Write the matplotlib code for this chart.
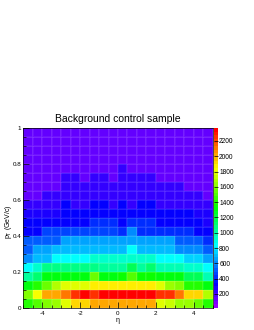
import numpy as np
import matplotlib
matplotlib.use("Agg")
import matplotlib.pyplot as plt
from matplotlib.colors import ListedColormap, Normalize
from matplotlib.ticker import MultipleLocator

plt.rcParams['font.family'] = ['Liberation Sans', 'DejaVu Sans']

# ---- data -------------------------------------------------------------
eta_edges = np.linspace(-5.0, 5.0, 21)
pt_edges = np.linspace(0.0, 1.0, 21)

# counts per eta bin (left -> right) for each pT bin (bottom -> top)
pt_bin_00 = [1404, 1498, 1592, 1638, 1779, 1920, 1920, 2014, 2014, 2014, 2014, 2014, 2014, 2014, 1779, 1732, 1638, 1638, 1545, 1404]
pt_bin_01 = [1592, 1826, 2014, 2014, 2107, 2248, 2342, 2248, 2342, 2342, 2360, 2342, 2342, 2342, 2248, 2248, 2107, 1920, 1920, 1685]
pt_bin_02 = [1310, 1404, 1545, 1685, 1779, 1779, 1779, 1873, 1873, 1873, 1873, 1873, 1873, 1873, 1779, 1638, 1592, 1420, 1420, 1310]
pt_bin_03 = [1029, 1122, 1290, 1330, 1330, 1330, 1310, 1545, 1330, 1310, 1357, 1498, 1357, 1357, 1310, 1310, 1290, 1169, 1169, 982]
pt_bin_04 = [841, 935, 1060, 1076, 1076, 1060, 1076, 1060, 1040, 1050, 1029, 1169, 1029, 1122, 1000, 1000, 1000, 935, 935, 860]
pt_bin_05 = [607, 700, 700, 841, 841, 841, 841, 935, 935, 935, 935, 935, 935, 935, 841, 841, 841, 747, 747, 654]
pt_bin_06 = [513, 654, 654, 700, 700, 700, 700, 700, 700, 700, 700, 841, 700, 700, 700, 700, 607, 607, 607, 513]
pt_bin_07 = [513, 513, 513, 513, 654, 654, 654, 654, 654, 654, 654, 654, 654, 654, 654, 654, 513, 513, 513, 400]
pt_bin_08 = [325, 325, 450, 450, 450, 450, 450, 450, 450, 450, 440, 600, 440, 440, 440, 440, 440, 440, 340, 320]
pt_bin_09 = [325, 325, 340, 340, 340, 340, 340, 440, 440, 440, 340, 440, 440, 440, 330, 330, 330, 330, 325, 278]
pt_bin_10 = [278, 278, 278, 278, 325, 325, 325, 325, 325, 325, 325, 325, 325, 325, 325, 325, 325, 325, 260, 260]
pt_bin_11 = [231, 231, 231, 231, 325, 231, 231, 325, 325, 231, 325, 231, 325, 325, 231, 231, 231, 231, 231, 231]
pt_bin_12 = [140, 140, 231, 231, 231, 231, 231, 231, 231, 231, 231, 231, 231, 231, 231, 231, 231, 231, 231, 140]
pt_bin_13 = [138, 138, 138, 138, 225, 225, 225, 225, 225, 225, 225, 225, 225, 225, 225, 225, 225, 138, 138, 138]
pt_bin_14 = [136, 136, 136, 136, 220, 220, 136, 220, 220, 136, 220, 220, 220, 220, 136, 136, 136, 136, 136, 136]
pt_bin_15 = [134, 134, 134, 134, 134, 134, 134, 134, 134, 134, 215, 134, 134, 134, 134, 134, 134, 134, 134, 134]
pt_bin_16 = [130, 130, 130, 130, 130, 130, 130, 130, 130, 130, 130, 130, 130, 130, 130, 130, 130, 130, 130, 130]
pt_bin_17 = [126, 126, 126, 126, 126, 126, 126, 126, 126, 126, 126, 126, 126, 126, 126, 126, 126, 126, 126, 126]
pt_bin_18 = [122, 122, 122, 122, 122, 122, 122, 122, 122, 122, 122, 122, 122, 122, 122, 122, 122, 122, 122, 122]
pt_bin_19 = [118, 118, 118, 118, 118, 118, 118, 118, 118, 118, 118, 118, 118, 118, 118, 118, 118, 118, 118, 118]

counts = np.array([pt_bin_00, pt_bin_01, pt_bin_02, pt_bin_03, pt_bin_04,
                   pt_bin_05, pt_bin_06, pt_bin_07, pt_bin_08, pt_bin_09,
                   pt_bin_10, pt_bin_11, pt_bin_12, pt_bin_13, pt_bin_14,
                   pt_bin_15, pt_bin_16, pt_bin_17, pt_bin_18, pt_bin_19], dtype=float)

z_min, z_max = 20.0, 2366.0
x_ticks = [-4, -2, 0, 2, 4]
y_ticks = [0, 0.2, 0.4, 0.6, 0.8, 1.0]
y_tick_labels = ['0', '0.2', '0.4', '0.6', '0.8', '1']
z_ticks = [200, 400, 600, 800, 1000, 1200, 1400, 1600, 1800, 2000, 2200]

title = 'Background control sample'
x_title = '\u03b7'
y_title = r'p$_{\mathregular{T}}$ (GeV/c)'

# ---- ROOT "pretty" palette (violet -> red, 50 colours) ------------------
def _hls1(rn1, rn2, hue):
    if hue > 360: hue -= 360
    if hue < 0: hue += 360
    if hue < 60: return rn1 + (rn2 - rn1) * hue / 60
    if hue < 180: return rn2
    if hue < 240: return rn1 + (rn2 - rn1) * (240 - hue) / 60
    return rn1

pal = []
for i in range(49):
    h = 280 - (i + 1) * (280 / 50)
    pal.append((_hls1(0, 1, h + 120), _hls1(0, 1, h), _hls1(0, 1, h - 120)))
pal.append((1, 0, 0))
cmap = ListedColormap(pal)

# ---- figure -----------------------------------------------------------
W, H = 255, 330
fig = plt.figure(figsize=(W / 100, H / 100), dpi=100)
fig.patch.set_facecolor('white')

x0, x1, y0, y1 = 23.3, 212.7, 128.3, 307.7
ax = fig.add_axes([x0 / W, 1 - y1 / H, (x1 - x0) / W, (y1 - y0) / H])
cax = fig.add_axes([214.2 / W, 1 - y1 / H, 3.6 / W, (y1 - y0) / H])

mesh = ax.pcolormesh(eta_edges, pt_edges, counts, cmap=cmap,
                     norm=Normalize(z_min, z_max),
                     edgecolors=(1, 1, 1, 0.07), linewidth=0.3)
ax.set_xlim(-5, 5)
ax.set_ylim(0, 1)
ax.set_xticks(x_ticks)
ax.set_xticklabels([str(t) for t in x_ticks])
ax.set_yticks(y_ticks)
ax.set_yticklabels(y_tick_labels)
ax.xaxis.set_minor_locator(MultipleLocator(0.5))
ax.yaxis.set_minor_locator(MultipleLocator(0.05))
ax.tick_params(which='both', direction='in', width=0.5, colors='black',
               labelsize=4.5, top=False, right=False)
ax.tick_params(which='major', length=4.0)
ax.tick_params(which='minor', length=2.0)
ax.tick_params(axis='x', pad=2.2)
ax.tick_params(axis='y', pad=1.4)
for s in ax.spines.values():
    s.set_linewidth(0.5)

cb = fig.colorbar(mesh, cax=cax, ticks=z_ticks)
cb.outline.set_visible(False)
cax.tick_params(direction='in', length=3.0, width=0.5, labelsize=4.8, pad=1.0)
cax.set_yticklabels([str(t) for t in z_ticks])

fig.text(118 / W, 1 - 119.3 / H, title, ha='center', va='center', fontsize=7.5)
fig.text(117.5 / W, 1 - 320.5 / H, x_title, ha='center', va='center', fontsize=5.0)
fig.text(8.3 / W, 1 - 222 / H, y_title, ha='center', va='center', fontsize=5.0,
         rotation=90)

fig.savefig('out.png', dpi=100)
